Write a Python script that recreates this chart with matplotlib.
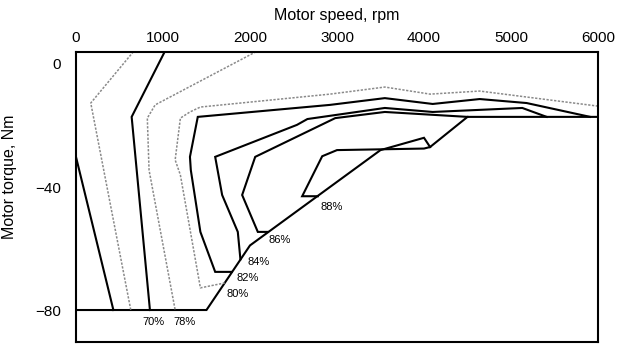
import matplotlib.pyplot as plt

plt.rcParams['font.family'] = ['Liberation Sans', 'DejaVu Sans']

# efficiency map of the motor in regenerative mode
# outer limit (max braking torque)
env_rpm = [0, 1500, 2000, 3500, 4000, 4070, 4500, 6000]
env_trq = [-80, -80, -59, -28, -24, -27, -17.2, -17.2]

# contour lines, from the innermost outwards
c88_rpm = [2780, 2600, 2830, 3000, 4000, 4070]
c88_trq = [-43, -43, -30, -28, -27.5, -27]

c86_rpm = [4500, 3550, 2980, 2060, 1910, 2090, 2200]
c86_trq = [-17.2, -15.6, -17.6, -30.2, -42.6, -54.6, -54.6]

c84_rpm = [5410, 5130, 4100, 3550, 2660, 2540, 1600, 1680, 1860, 1890]
c84_trq = [-17.2, -14.3, -15.6, -14.3, -17.9, -19.8, -30.2, -42.6, -54.6, -63.5]

c82_rpm = [5910, 5180, 4640, 4100, 3550, 2920, 1400, 1310, 1320, 1430, 1600, 1790]
c82_trq = [-17.2, -12.7, -11.4, -13.0, -11.1, -13.3, -17.2, -30.2, -34.5, -54.6, -67.6, -67.6]

c80_rpm = [6000, 4640, 4070, 3550, 2920, 1430, 1310, 1200, 1140, 1200, 1430, 1710]
c80_trq = [-13.7, -8.8, -9.8, -7.5, -9.8, -14.0, -15.6, -17.6, -31.2, -36.1, -72.8, -71.2]

c78_rpm = [2070, 910, 820, 840, 1140]
c78_trq = [4, -13.3, -17.6, -34.5, -80]

c70_rpm = [1020, 640, 850]
c70_trq = [4, -17.2, -80]

cb_rpm = [660, 170, 630]
cb_trq = [4, -12.7, -80]

ca_rpm = [0, 430]
ca_trq = [-30.2, -80]

labels = ['88%', '86%', '84%', '82%', '80%', '70%', '78%']
label_rpm = [2940, 2345, 2103, 1977, 1862, 885, 1253]
label_trq = [-46.5, -57.2, -64.4, -69.6, -74.8, -83.9, -83.9]

fig = plt.figure(figsize=(6.31, 3.45), dpi=100)
ax = fig.add_axes([0.1204, 0.0087, 0.8273, 0.8406])

solid = dict(color='black', lw=1.5, solid_joinstyle='miter')
dotted = dict(color='#8a8a8a', lw=1.1, ls=(0, (1.5, 1)))

ax.plot(env_rpm, env_trq, **solid)
ax.plot(c88_rpm, c88_trq, **solid)
ax.plot(c86_rpm, c86_trq, **solid)
ax.plot(c84_rpm, c84_trq, **solid)
ax.plot(c82_rpm, c82_trq, **solid)
ax.plot(c80_rpm, c80_trq, **dotted)
ax.plot(c78_rpm, c78_trq, **dotted)
ax.plot(c70_rpm, c70_trq, **solid)
ax.plot(cb_rpm, cb_trq, **dotted)
ax.plot(ca_rpm, ca_trq, **solid)

for txt, x, y in zip(labels, label_rpm, label_trq):
    ax.text(x, y, txt, fontsize=8, ha='center', va='center')

ax.set_xlim(0, 6000)
ax.set_ylim(-90.4, 3.9)
ax.set_xticks([0, 1000, 2000, 3000, 4000, 5000, 6000])
ax.set_yticks([0, -40, -80])
ax.set_yticklabels(['0', '\u221240', '\u221280'])
ax.xaxis.tick_top()
ax.xaxis.set_label_position('top')
ax.tick_params(axis='x', length=0, pad=5, labelsize=11)
ax.tick_params(axis='y', length=0, pad=11, labelsize=11)
ax.set_xlabel('Motor speed, rpm', fontsize=11.5, labelpad=8)
ax.set_ylabel('Motor torque, Nm', fontsize=11.5)
ax.yaxis.set_label_coords(-0.113, 0.569)

for s in ax.spines.values():
    s.set_linewidth(1.5)

fig.savefig('out.png', dpi=100)
